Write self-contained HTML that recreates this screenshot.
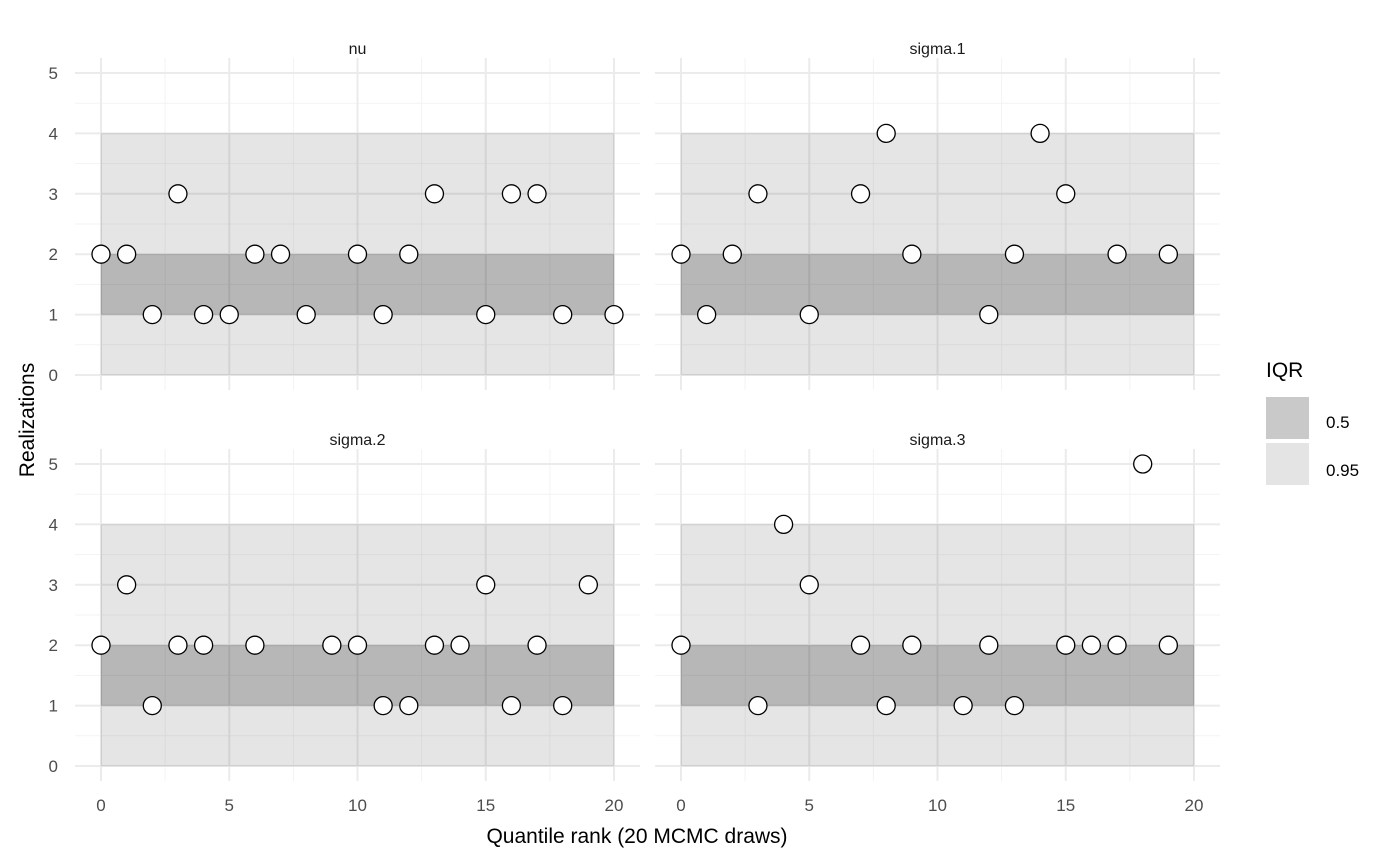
<!DOCTYPE html>
<html><head><meta charset="utf-8"><style>
body{margin:0;background:#fff;}
svg{display:block;font-family:"Liberation Sans",Arial,sans-serif;}
</style></head><body>
<svg id="chart" width="1400" height="865" xmlns="http://www.w3.org/2000/svg">
<g id="plots"></g>
<text x="0" y="0" transform="translate(34,420) rotate(-90)" text-anchor="middle" font-size="21" fill="#000">Realizations</text>
<text x="637" y="843" text-anchor="middle" font-size="21" fill="#000">Quantile rank (20 MCMC draws)</text>
<g>
<text x="1266" y="377" font-size="21" fill="#000">IQR</text>
<rect x="1266" y="397" width="43" height="42" fill="#c9c9c9"/>
<rect x="1266" y="443" width="43" height="42" fill="#e4e4e4"/>
<text x="1326" y="428" font-size="17" fill="#000">0.5</text>
<text x="1326" y="476" font-size="17" fill="#000">0.95</text>
</g>
</svg>
<script>
const panelNames = ["nu","sigma.1","sigma.2","sigma.3"];
const nuX = [0,1,2,3,4,5,6,7,8,10,11,12,13,15,16,17,18,20];
const nuY = [2,2,1,3,1,1,2,2,1,2,1,2,3,1,3,3,1,1];
const s1X = [0,1,2,3,5,7,8,9,12,13,14,15,17,19];
const s1Y = [2,1,2,3,1,3,4,2,1,2,4,3,2,2];
const s2X = [0,1,2,3,4,6,9,10,11,12,13,14,15,16,17,18,19];
const s2Y = [2,3,1,2,2,2,2,2,1,1,2,2,3,1,2,1,3];
const s3X = [0,3,4,5,7,8,9,11,12,13,15,16,17,18,19];
const s3Y = [2,1,4,3,2,1,2,1,2,1,2,2,2,5,2];
const xTicks = [0,5,10,15,20];
const yTicks = [0,1,2,3,4,5];
const band95 = [0,4];
const band50 = [1,2];
const bandX = [0,20];

const NS="http://www.w3.org/2000/svg";
const panels=[
 {name:panelNames[0],xs:nuX,ys:nuY,left:75,top:58,x0:101,y0:375,showX:false},
 {name:panelNames[1],xs:s1X,ys:s1Y,left:655,top:58,x0:681,y0:375,showX:false},
 {name:panelNames[2],xs:s2X,ys:s2Y,left:75,top:449,x0:101,y0:766,showX:true},
 {name:panelNames[3],xs:s3X,ys:s3Y,left:655,top:449,x0:681,y0:766,showX:true}
];
const ux=25.65, uy=60.4, pw=565, ph=332;
function mk(tag,attrs,parent){const e=document.createElementNS(NS,tag);for(const k in attrs)e.setAttribute(k,attrs[k]);parent.appendChild(e);return e;}
const root=document.getElementById('plots');
panels.forEach((p,pi)=>{
 const sx=v=>p.x0+v*ux, sy=v=>p.y0-v*uy;
 const g=mk('g',{},root);
 
 
 for(let v=-0.5;v<=5.5;v+=1){const y=sy(v); if(y<p.top||y>p.top+ph)continue;
  const l=mk('line',{x1:p.left,x2:p.left+pw,y1:y,y2:y,stroke:'#f3f3f3','stroke-width':1},g);
  }
 for(let v=2.5;v<20;v+=5){const x=sx(v);
  const l=mk('line',{x1:x,x2:x,y1:p.top,y2:p.top+ph,stroke:'#f3f3f3','stroke-width':1},g);
  }
 yTicks.forEach(v=>{const y=sy(v);
  const l=mk('line',{x1:p.left,x2:p.left+pw,y1:y,y2:y,stroke:'#ebebeb','stroke-width':2},g);
  
  if(pi%2===0){const t=mk('text',{x:p.left-17,y:y+6,'text-anchor':'end','font-size':17,fill:'#4d4d4d'},g);t.textContent=v;
   }
 });
 xTicks.forEach(v=>{const x=sx(v);
  const l=mk('line',{x1:x,x2:x,y1:p.top,y2:p.top+ph,stroke:'#ebebeb','stroke-width':2},g);
  
  if(p.showX){const t=mk('text',{x:x,y:p.top+ph+30,'text-anchor':'middle','font-size':17,fill:'#4d4d4d'},g);t.textContent=v;
   }
 });
 const r1=mk('rect',{x:sx(bandX[0]),y:sy(band95[1]),width:sx(bandX[1])-sx(bandX[0]),height:sy(band95[0])-sy(band95[1]),fill:'#000','fill-opacity':0.1,stroke:'#000','stroke-opacity':0.05},g);
 
 const r2=mk('rect',{x:sx(bandX[0]),y:sy(band50[1]),width:sx(bandX[1])-sx(bandX[0]),height:sy(band50[0])-sy(band50[1]),fill:'#000','fill-opacity':0.2,stroke:'#000','stroke-opacity':0.05},g);
 
 const st=mk('text',{x:p.left+pw/2,y:p.top-4,'text-anchor':'middle','font-size':16,fill:'#1a1a1a'},g);st.textContent=p.name;
 
 p.xs.forEach((xv,i)=>{
  const c=mk('circle',{cx:sx(xv),cy:sy(p.ys[i]),r:9,fill:'#fff',stroke:'#000','stroke-width':1.3},g);
  
  
 });
});
</script>
</body></html>
